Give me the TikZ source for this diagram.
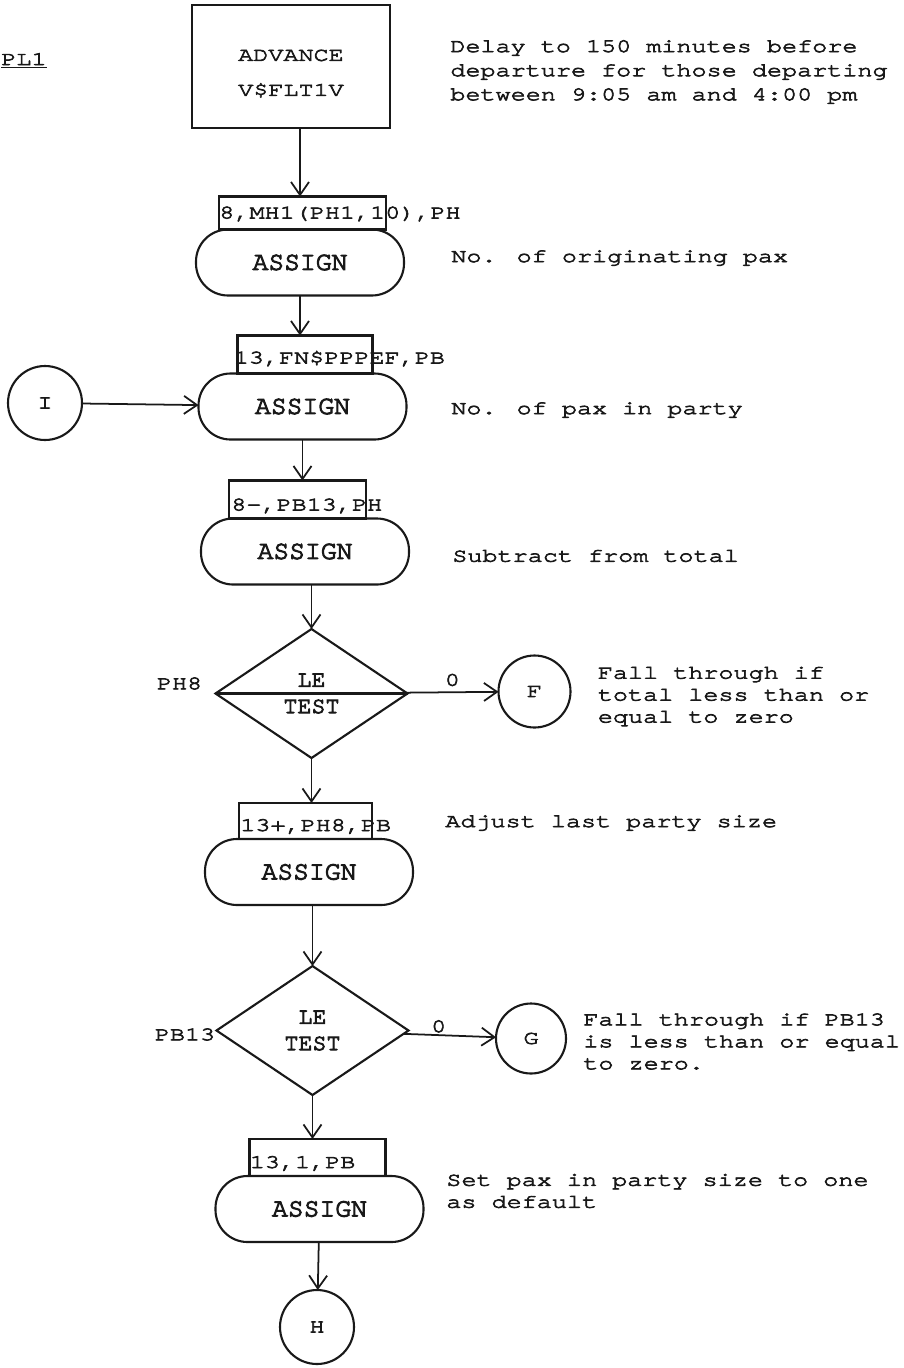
\documentclass[tikz,border=0pt]{standalone}
\usepackage{fontspec}
\newfontfamily\typewr[FakeStretch=1.3, FakeBold=3.5]{texgyrecursor-regular.otf}
\newfontfamily\typebk[FakeBold=4]{texgyrecursor-regular.otf}
\definecolor{ScanInk}{RGB}{25,25,25}
\usetikzlibrary{arrows.meta, positioning, shapes.geometric, calc}
\tikzset{
  advbox/.style={rectangle, draw=#1, line width=1.2pt, outer sep=0pt, minimum width=3.96cm,
                 minimum height=2.46cm, align=center,
                 font=\typewr\fontsize{11}{19.9}\selectfont, text=#1},
  assignbox/.style={rectangle, rounded corners=0.64cm, draw=#1, line width=1.2pt, outer sep=0pt,
                    minimum width=4.16cm, minimum height=1.32cm,
                    font=\typebk\fontsize{15}{18}\selectfont, text=#1},
  opbox/.style={rectangle, draw=#1, line width=1.2pt, outer sep=0pt, inner sep=0pt},
  testbox/.style={diamond, draw=#1, line width=1.2pt, outer sep=0pt, minimum width=3.84cm,
                  minimum height=2.58cm, inner sep=0pt, align=center,
                  font=\typebk\fontsize{13.3}{15}\selectfont, text=#1},
  conn/.style={circle, draw=#1, line width=1.2pt, outer sep=0pt, minimum size=1.44cm,
               inner sep=0pt, font=\typewr\fontsize{11}{12.5}\selectfont, text=#1},
  optext/.style={inner sep=0pt, font=\typewr\fontsize{11}{12.5}\selectfont, text=#1},
  remark/.style={inner sep=0pt, align=left,
                 font=\typewr\fontsize{11}{12.5}\selectfont, text=#1},
  arr/.style={-{Straight Barb[length=0.26cm, width=0.36cm]}, line width=1pt, color=#1},
}
\begin{document}
\begin{tikzpicture}[node distance=1cm]
  \fill[white] (0,0) rectangle (18.08,-27.36);
  \useasboundingbox (0,0) rectangle (18.08,-27.36);

  \node[remark=ScanInk, anchor=base west] (pl) at (0.02,-1.3) {\underline{PL1}};

  \node[advbox=ScanInk] (adv) at (5.82,-1.33) {\rule{0pt}{0.51cm}ADVANCE\\V\$FLT1V};
  \node[remark=ScanInk, right=1.2cm of adv, yshift=-0.11cm,
        font=\typewr\fontsize{11}{13.7}\selectfont] (radv)
       {Delay to 150 minutes before\\departure for those departing\\between 9:05 am and 4:00 pm};

  \node[assignbox=ScanInk, below=2.03cm of adv, xshift=0.18cm] (as1) {ASSIGN};
  \node[opbox=ScanInk, minimum width=3.34cm, minimum height=0.66cm, anchor=south west] (op1)
       at ([xshift=0.46cm]as1.north west) {};
  \node[optext=ScanInk, anchor=base west] (op1t) at ([yshift=0.22cm]op1.south west)
       {8,MH1(PH1,10),PH};
  \node[remark=ScanInk, right=0.94cm of as1, yshift=0.09cm] (ras1) {No. of originating pax};

  \node[assignbox=ScanInk, below=1.56cm of as1, xshift=0.05cm] (as2) {ASSIGN};
  \node[opbox=ScanInk, minimum width=2.7cm, minimum height=0.76cm, anchor=south west] (op2)
       at ([xshift=0.78cm]as2.north west) {};
  \node[optext=ScanInk, anchor=base west] (op2t) at ([xshift=-0.08cm, yshift=0.2cm]op2.south west)
       {13,FN\$PPPEF,PB};
  \node[remark=ScanInk, right=0.89cm of as2, yshift=-0.07cm] (ras2) {No. of pax in party};
  \node[conn=ScanInk, minimum size=1.48cm, left=2.33cm of as2, yshift=0.07cm] (cI) {I};

  \node[assignbox=ScanInk, below=1.58cm of as2, xshift=0.05cm] (as3) {ASSIGN};
  \node[opbox=ScanInk, minimum width=2.74cm, minimum height=0.76cm, anchor=south west] (op3)
       at ([xshift=0.56cm]as3.north west) {};
  \node[optext=ScanInk, anchor=base west] (op3t) at ([xshift=0.04cm, yshift=0.16cm]op3.south west)
       {8-,PB13,PH};
  \node[remark=ScanInk, right=0.86cm of as3, yshift=-0.09cm] (ras3) {Subtract from total};

  \node[testbox=ScanInk, below=0.89cm of as3, xshift=0.13cm] (t1) {LE\\TEST};
  \node[remark=ScanInk, left=0.26cm of t1.west, yshift=0.2cm] (lt1) {PH8};
  \node[conn=ScanInk, right=1.82cm of t1, yshift=0.04cm] (cF) {F};
  \node[remark=ScanInk, right=0.54cm of cF, yshift=-0.1cm] (rF)
       {Fall through if\\total less than or\\equal to zero};

  \node[assignbox=ScanInk, below=1.62cm of t1, xshift=-0.05cm] (as4) {ASSIGN};
  \node[opbox=ScanInk, minimum width=2.66cm, minimum height=0.72cm, anchor=south west] (op4)
       at ([xshift=0.68cm]as4.north west) {};
  \node[optext=ScanInk, anchor=base west] (op4t) at ([xshift=0.02cm, yshift=0.16cm]op4.south west)
       {13+,PH8,PB};
  \node[remark=ScanInk, right=1.46cm of op4, yshift=-0.04cm] (rop4) {Adjust last party size};

  \node[testbox=ScanInk, below=1.22cm of as4, xshift=0.07cm] (t2) {LE\\TEST};
  \node[remark=ScanInk, left=0.02cm of t2.west, yshift=-0.08cm] (lt2) {PB13};
  \node[conn=ScanInk, minimum size=1.4cm, right=1.75cm of t2, yshift=-0.16cm] (cG) {G};
  \node[remark=ScanInk, right=0.34cm of cG, yshift=-0.06cm] (rG)
       {Fall through if PB13\\is less than or equal\\to zero.};

  \node[assignbox=ScanInk, below=1.62cm of t2, xshift=0.14cm] (as5) {ASSIGN};
  \node[opbox=ScanInk, minimum width=2.72cm, minimum height=0.74cm, anchor=south west] (op5)
       at ([xshift=0.68cm]as5.north west) {};
  \node[optext=ScanInk, anchor=base west] (op5t) at ([yshift=0.16cm]op5.south west) {13,1,PB};
  \node[remark=ScanInk, right=0.45cm of as5, yshift=0.36cm] (ras5)
       {Set pax in party size to one\\as default};

  \node[conn=ScanInk, minimum size=1.48cm, below=0.96cm of as5, xshift=-0.05cm] (cH) {H};

  \draw[line width=1.2pt, ScanInk] (t1.west) -- (t1.east);

  \draw[arr=ScanInk] (adv.south -| as1) -- (op1.north -| as1);
  \draw[arr=ScanInk] (as1) -- (op2.north -| as1);
  \draw[arr=ScanInk] (as2) -- (op3.north -| as2);
  \draw[arr=ScanInk] (t1 |- as3.south) -- (t1);
  \draw[arr=ScanInk] (t1) -- (op4.north -| t1);
  \draw[arr=ScanInk] (t2 |- as4.south) -- (t2);
  \draw[arr=ScanInk] (t2) -- (op5.north -| t2);
  \draw[arr=ScanInk] (as5) -- (cH);
  \draw[arr=ScanInk] (cI) -- (as2);
  \draw[arr=ScanInk] (t1) -- node[remark=ScanInk, above=3pt] (z1) {0} (cF);
  \draw[arr=ScanInk] (t2) -- node[remark=ScanInk, above=1pt, pos=0.38] (z2) {0} (cG);
\end{tikzpicture}
\end{document}
